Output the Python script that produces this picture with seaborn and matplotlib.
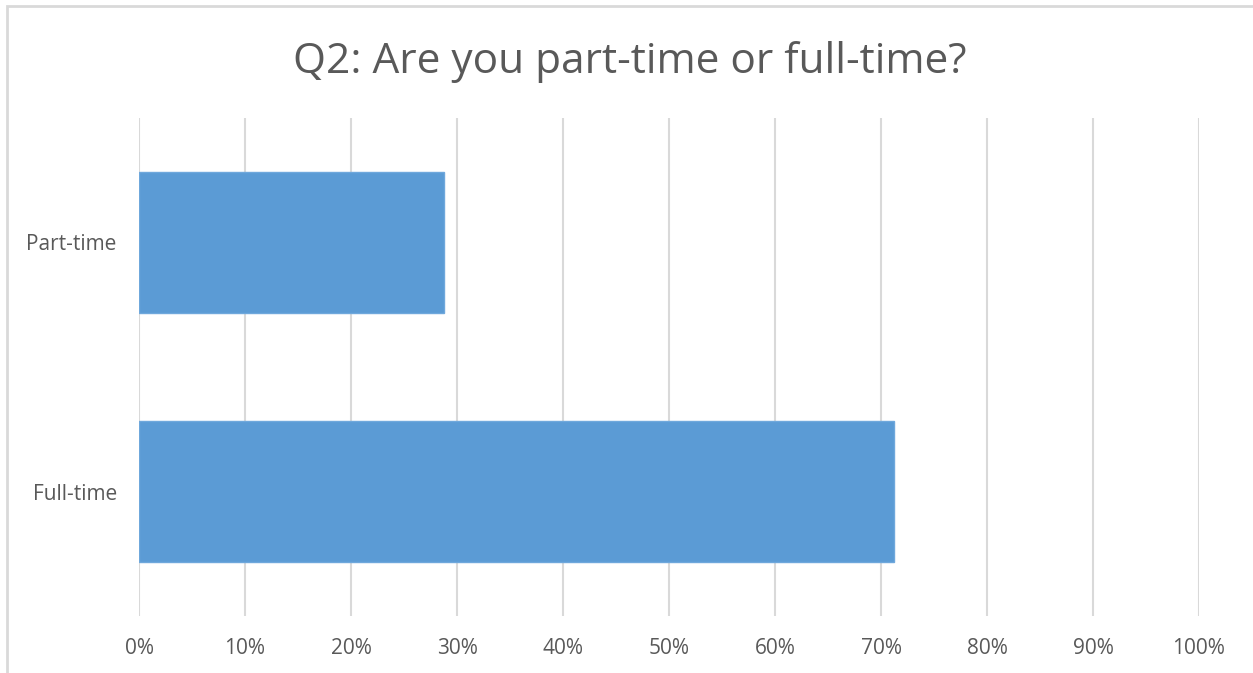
import matplotlib
matplotlib.use('Agg')
import matplotlib.pyplot as plt
import seaborn as sns
import pandas as pd
from matplotlib.ticker import PercentFormatter
from matplotlib.patches import Rectangle

# data
categories = ['Part-time', 'Full-time']
shares = [28.8, 71.2]
x_ticks = [0, 10, 20, 30, 40, 50, 60, 70, 80, 90, 100]

df = pd.DataFrame({'status': categories, 'pct': shares})

sns.set_theme(style='white')
plt.rcParams['font.family'] = ['Open Sans', 'DejaVu Sans']

text_col = '#595959'
grid_col = '#D9D9D9'

fig = plt.figure(figsize=(12.53, 6.73), dpi=100)
ax = fig.add_axes([139/1253, 1 - 616/673, (1199 - 139)/1253, (616 - 118)/673])

sns.barplot(data=df, x='pct', y='status', color='#5B9BD5', width=0.57,
            edgecolor='#6FA8DC', linewidth=1, saturation=1, ax=ax)

ax.set_xlim(0, 100)
ax.set_xticks(x_ticks)
ax.xaxis.set_major_formatter(PercentFormatter(decimals=0))
ax.grid(axis='x', color=grid_col, linewidth=1.5)
ax.set_axisbelow(True)
for s in ax.spines.values():
    s.set_visible(False)
ax.set_xlabel('')
ax.set_ylabel('')
ax.tick_params(axis='x', colors=text_col, labelsize=15, length=0, pad=16)
ax.tick_params(axis='y', colors=text_col, labelsize=15, length=0, pad=16)

fig.text(630/1253, 1 - 62/673, 'Q2: Are you part-time or full-time?',
         ha='center', va='center', fontsize=30.5, color=text_col)

# chart frame (top and left edge visible)
fig.patches.append(Rectangle((7/1253, -0.05), 1.1, 1 - 6/673 + 0.05,
                             transform=fig.transFigure, fill=False,
                             edgecolor=grid_col, linewidth=2))

fig.savefig('out.png', dpi=100)
